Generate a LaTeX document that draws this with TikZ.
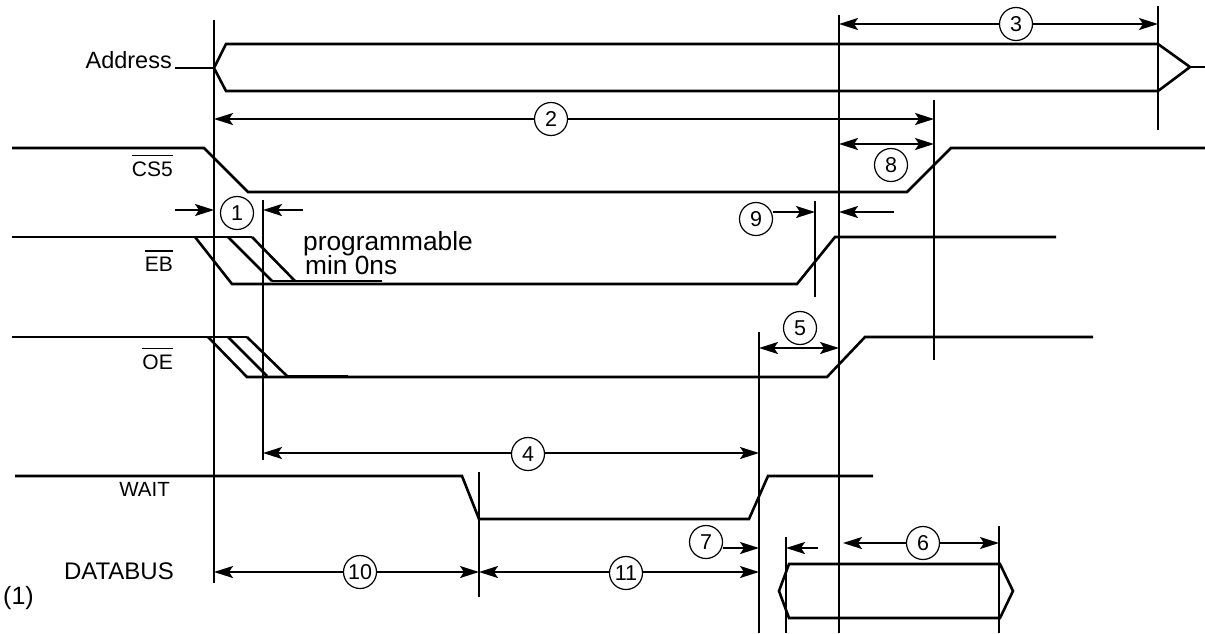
\documentclass[tikz,border=0pt]{standalone}
\usepackage{fontspec}
\setmainfont{Liberation Sans}
\usetikzlibrary{arrows.meta}
\newcommand{\ovl}[1]{\vbox{\hrule height 1.4pt\kern 5pt\hbox{#1}}}
\newcommand{\fs}[1]{\fontsize{#1}{#1}\selectfont}
\tikzset{
  sig/.style={line width=2.6pt, line join=miter},
  vline/.style={line width=1.9pt},
  tipA/.tip={Stealth[length=19pt,width=12pt,inset=4pt]},
  arr/.style={line width=1.9pt, -tipA},
  darr/.style={line width=1.9pt, tipA-tipA},
  num/.style={circle, draw, line width=1.2pt, minimum size=33pt, inner sep=0pt, fill=white, font=\fs{21.5}},
  lab/.style={inner sep=0pt, anchor=base east, font=\fs{21}},
  txt/.style={inner sep=0pt, anchor=base west, font=\fs{26.3}}
}
\begin{document}
\begin{tikzpicture}[x=1pt,y=-1pt]
\useasboundingbox (0,0) rectangle (1205,633);

% vertical reference lines
\coordinate (v1t) at (214,20);  \coordinate (v1b) at (214,583);
\coordinate (v2t) at (263,200); \coordinate (v2b) at (263,460);
\coordinate (v3t) at (839,15);  \coordinate (v3b) at (839,633);
\coordinate (v4t) at (1158,6);  \coordinate (v4b) at (1158,130);
\coordinate (v5t) at (934,100); \coordinate (v5b) at (934,360);
\coordinate (v6t) at (815,201); \coordinate (v6b) at (815,297);
\coordinate (v7t) at (759,332); \coordinate (v7b) at (759,633);
\coordinate (v8t) at (479,472); \coordinate (v8b) at (479,597);
\coordinate (v9t) at (786,537); \coordinate (v9b) at (786,633);
\coordinate (v10t) at (999,526); \coordinate (v10b) at (999,633);
\foreach \v in {1,...,10} \draw[vline] (v\v t) -- (v\v b);

% labels
\node[lab, font=\fs{23.5}] (laddr) at (172,68) {Address};
\node[lab] (lcs) at (173,176) {\ovl{CS5}};
\node[lab] (leb) at (173,271) {\ovl{EB}};
\node[lab] (loe) at (173,369) {\ovl{OE}};
\node[lab, font=\fs{20.5}] (lwait) at (170,496) {WAIT};
\node[lab, font=\fs{24}] (ldata) at (174,579) {DATABUS};
\node[inner sep=0pt, anchor=base west, font=\fs{25}] (lone) at (3,604) {(1)};
\node[txt] (tprog) at (303,250) {programmable};
\node[txt] (tmin) at (305,274) {min 0ns};

% Address
\draw[sig] (175,68) -- (214,68);
\draw[sig] (214,68) -- (226,44) -- (1158,44) -- (1190,67) -- (1158,91) -- (226,91) -- cycle;
\draw[sig] (1190,67) -- (1205,67);

% CS5
\draw[sig] (12,148) -- (204,148) -- (248,192) -- (907,192) -- (951,148) -- (1205,148);

% EB
\draw[sig] (12,237) -- (252,237);
\draw[sig] (195,237) -- (232,284) -- (797,284) -- (835,237) -- (1056,237);
\draw[sig] (228,237) -- (272,281);
\draw[sig] (252,237) -- (295,281);
\draw[sig] (272,281) -- (382,281);

% OE
\draw[sig] (12,337) -- (247,337);
\draw[sig] (208,337) -- (247,377) -- (827,377) -- (865,337) -- (1093,337);
\draw[sig] (228,337) -- (267,376);
\draw[sig] (247,337) -- (287,376);
\draw[sig] (287,376) -- (348,376);

% WAIT
\draw[sig] (15,476) -- (462,476) -- (479,519) -- (749,519) -- (768,476) -- (873,476);

% DATABUS
\draw[sig] (779,591) -- (789,564) -- (1000,564) -- (1013,591) -- (1000,618) -- (789,618) -- cycle;

% timing arrows
\coordinate (a3l) at (839,24); \coordinate (a3r) at (1158,24);
\draw[darr] (a3l) -- (a3r);
\node[num] (n3) at (1016,24) {3};

\coordinate (a2l) at (214,119); \coordinate (a2r) at (934,119);
\draw[darr] (a2l) -- (a2r);
\node[num] (n2) at (551,119) {2};

\coordinate (a8l) at (839,144); \coordinate (a8r) at (934,144);
\draw[darr] (a8l) -- (a8r);
\node[num] (n8) at (891,165) {8};

\node[num] (n1) at (237,213) {1};
\coordinate (a1a) at (175,210); \coordinate (a1b) at (214,210);
\coordinate (a1c) at (303,210); \coordinate (a1d) at (263,210);
\draw[arr] (a1a) -- (a1b);
\draw[arr] (a1c) -- (a1d);

\node[num] (n9) at (756,219) {9};
\coordinate (a9b) at (815,212);
\coordinate (a9c) at (894,212); \coordinate (a9d) at (839,212);
\draw[arr] (n9.east |- a9b) -- (a9b);
\draw[arr] (a9c) -- (a9d);

\coordinate (a5l) at (759,348); \coordinate (a5r) at (839,348);
\draw[darr] (a5l) -- (a5r);
\node[num] (n5) at (800,328) {5};

\coordinate (a4l) at (263,453); \coordinate (a4r) at (759,453);
\draw[darr] (a4l) -- (a4r);
\node[num] (n4) at (528,454) {4};

\coordinate (a10l) at (214,572); \coordinate (a10r) at (479,572);
\draw[darr] (a10l) -- (a10r);
\node[num] (n10) at (360,572) {10};

\coordinate (a11l) at (479,572); \coordinate (a11r) at (759,572);
\draw[darr] (a11l) -- (a11r);
\node[num] (n11) at (626,573) {11};

\node[num] (n7) at (706,542) {7};
\coordinate (a7b) at (759,548);
\draw[arr] (n7.east |- a7b) -- (a7b);

\coordinate (axa) at (818,548); \coordinate (axb) at (786,548);
\draw[arr] (axa) -- (axb);

\coordinate (a6l) at (843,543); \coordinate (a6r) at (999,543);
\draw[darr] (a6l) -- (a6r);
\node[num] (n6) at (923,543) {6};
\end{tikzpicture}
\end{document}
